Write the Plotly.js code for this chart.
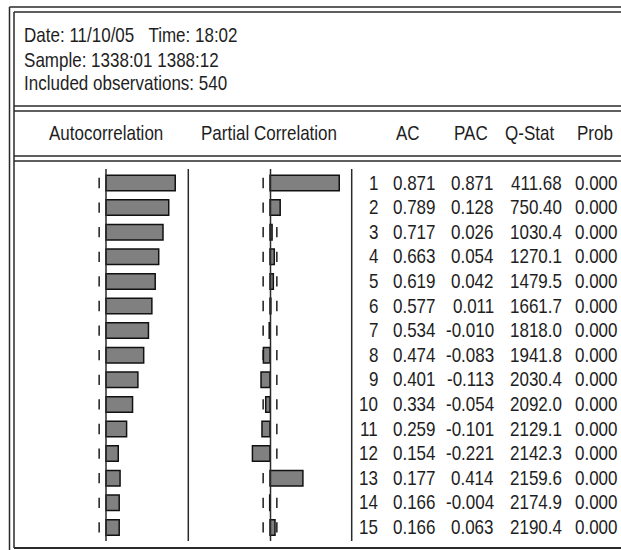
<!DOCTYPE html>
<html>
<head>
<meta charset="utf-8">
<script src="https://cdn.plot.ly/plotly-3.0.1.min.js"></script>
<style>
html,body{margin:0;padding:0;background:#fff;}
#chart{width:621px;height:550px;}
#chart .annotation-text{transform-box:fill-box;transform-origin:center;transform:scaleY(1.2);}
</style>
</head>
<body>
<div id="chart"></div>
<script>
// ---- data ----
const headerLines = ["Date: 11/10/05\u00a0\u00a0\u00a0Time: 18:02", "Sample: 1338:01 1388:12", "Included observations: 540"];
const nobs = 540;
const lags = [1,2,3,4,5,6,7,8,9,10,11,12,13,14,15];
const ac  = [0.871,0.789,0.717,0.663,0.619,0.577,0.534,0.474,0.401,0.334,0.259,0.154,0.177,0.166,0.166];
const pac = [0.871,0.128,0.026,0.054,0.042,0.011,-0.010,-0.083,-0.113,-0.054,-0.101,-0.221,0.414,-0.004,0.063];
const qstat = ["411.68","750.40","1030.4","1270.1","1479.5","1661.7","1818.0","1941.8","2030.4","2092.0","2129.1","2142.3","2159.6","2174.9","2190.4"];
const prob = ["0.000","0.000","0.000","0.000","0.000","0.000","0.000","0.000","0.000","0.000","0.000","0.000","0.000","0.000","0.000"];
const colHeaders = ["Autocorrelation","Partial Correlation","AC","PAC","Q-Stat","Prob"];

// ---- geometry helpers (pixels -> paper) ----
const W = 621, H = 550;
const px = x => x / W;
const py = y => 1 - y / H;
const FONT = "'Liberation Sans', Arial, sans-serif";
const TXT = "#1e1e1e";
const LINE = "#2a2a2a";

const bound = 2 / Math.sqrt(nobs);

const shapes = [];
// confidence-bound dashes (below bars)
function dashes(xv, xa) {
  lags.forEach(l => shapes.push({type:'line', layer:'below', xref:xa, yref:'y', x0:xv, x1:xv, y0:l - 0.21, y1:l + 0.21, line:{color:LINE, width:1.6}}));
}
dashes(-bound, 'x'); dashes(bound, 'x'); dashes(-bound, 'x2'); dashes(bound, 'x2');

const barStyle = {color:'#808080', line:{color:'#111', width:1.5}};
const traces = [
  {type:'bar', orientation:'h', x:ac, y:lags, xaxis:'x', yaxis:'y', width:0.63, marker:barStyle, showlegend:false, hoverinfo:'skip'},
  {type:'bar', orientation:'h', x:pac, y:lags, xaxis:'x2', yaxis:'y', width:0.63, marker:barStyle, showlegend:false, hoverinfo:'skip'}
];

function hline(x0, x1, y, w) { shapes.push({type:'line', xref:'paper', yref:'paper', x0:px(x0), x1:px(x1), y0:py(y), y1:py(y), line:{color:LINE, width:w||1.5}}); }
function vline(x, y0, y1, w) { shapes.push({type:'line', xref:'paper', yref:'paper', x0:px(x), x1:px(x), y0:py(y0), y1:py(y1), line:{color:LINE, width:w||1.5}}); }

// outer frame (double)
hline(9.5, 621, 7);  hline(14, 621, 12);
vline(9.5, 7, 550);  vline(14, 12, 548);
// header separators (double)
hline(14, 621, 106); hline(14, 621, 111);
hline(14, 621, 156); hline(14, 621, 161);
// bottom
hline(14, 621, 548, 2);
// zero lines & separators
vline(106, 169, 541); vline(188.3, 169, 541);
vline(270.5, 169, 541); vline(351.7, 169, 541);

const annotations = [];
function txt(s, x, y, anchor, yref) {
  annotations.push({text:s, x:x, y:y, xref:'paper', yref:yref||'paper', xanchor:anchor, yanchor:'middle',
    showarrow:false, borderpad:0, font:{family:FONT, size:17, color:TXT}});
}
headerLines.forEach((s, i) => txt(s, px(23), py(36 + i * 24), 'left'));
txt(colHeaders[0], px(106), py(133), 'center');
txt(colHeaders[1], px(269), py(133), 'center');
txt(colHeaders[2], px(395), py(133), 'left');
txt(colHeaders[3], px(453), py(133), 'left');
txt(colHeaders[4], px(504), py(133), 'left');
txt(colHeaders[5], px(576), py(133), 'left');
lags.forEach((l, i) => {
  txt(String(l), px(379), l, 'right', 'y');
  txt(ac[i].toFixed(3), px(437), l, 'right', 'y');
  txt(pac[i].toFixed(3), px(495), l, 'right', 'y');
  txt(qstat[i], px(563), l, 'right', 'y');
  txt(prob[i], px(619), l, 'right', 'y');
});

const axBase = {range:[-1,1], showgrid:false, zeroline:false, showticklabels:false, ticks:'', showline:false, fixedrange:true};
const layout = {
  width:W, height:H, margin:{l:0,r:0,t:0,b:0}, paper_bgcolor:'#fff', plot_bgcolor:'rgba(0,0,0,0)',
  showlegend:false, barmode:'overlay',
  xaxis: Object.assign({}, axBase, {domain:[px(26.5), px(185.5)]}),
  xaxis2: Object.assign({}, axBase, {domain:[px(190.5), px(349.5)], anchor:'y'}),
  yaxis: {range:[15.5, 0.5], domain:[py(539.7), py(170.7)], showgrid:false, zeroline:false, showticklabels:false, ticks:'', showline:false, fixedrange:true},
  shapes:shapes, annotations:annotations
};
Plotly.newPlot('chart', traces, layout, {staticPlot:true, displayModeBar:false});
</script>
</body>
</html>
